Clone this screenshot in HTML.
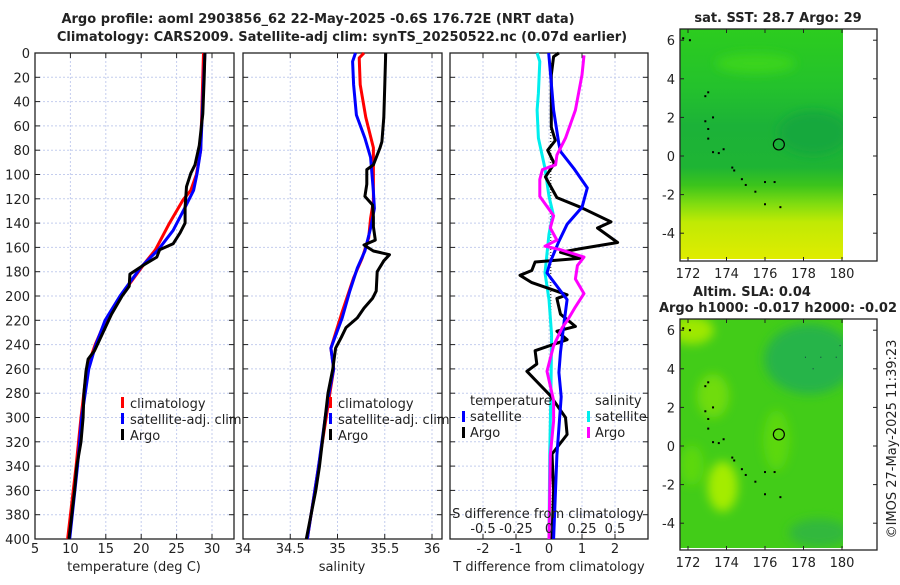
<!DOCTYPE html>
<html><head><meta charset="utf-8"><style>
body{margin:0;background:#fff}
svg text{font-family:"DejaVu Sans","Liberation Sans",sans-serif;fill:#222}
</style></head><body>
<svg id="fig" width="900" height="580" viewBox="0 0 900 580" xmlns="http://www.w3.org/2000/svg">
<defs>
<linearGradient id="sstGrad" x1="0" y1="0" x2="0" y2="1">
<stop offset="0" stop-color="#2ccc1e"/><stop offset="0.25" stop-color="#24c22c"/>
<stop offset="0.42" stop-color="#1cb238"/><stop offset="0.6" stop-color="#1eb434"/>
<stop offset="0.68" stop-color="#3cc41c"/><stop offset="0.76" stop-color="#80dc10"/>
<stop offset="0.84" stop-color="#c0ea04"/><stop offset="1" stop-color="#e0ec00"/>
</linearGradient>
<filter id="blur" x="-50%" y="-50%" width="200%" height="200%"><feGaussianBlur stdDeviation="5"/></filter>
<clipPath id="m1clip"><rect x="680" y="29" width="163" height="230"/></clipPath>
<clipPath id="m2clip"><rect x="680" y="319" width="163" height="229"/></clipPath>
</defs>
<text x="318" y="23" text-anchor="middle" font-weight="bold" font-size="13">Argo profile: aoml 2903856_62 22-May-2025 -0.6S 176.72E (NRT data)</text>
<text x="342" y="41" text-anchor="middle" font-weight="bold" font-size="13">Climatology: CARS2009. Satellite-adj clim: synTS_20250522.nc (0.07d earlier)</text>
<g id="plots"></g>
<text x="778" y="22" text-anchor="middle" font-weight="bold" font-size="13">sat. SST: 28.7 Argo: 29</text>
<text x="752" y="296" text-anchor="middle" font-weight="bold" font-size="13">Altim. SLA: 0.04</text>
<text x="778" y="312" text-anchor="middle" font-weight="bold" font-size="13">Argo h1000: -0.017 h2000: -0.02</text>
<text transform="translate(896,439) rotate(-90)" text-anchor="middle" font-size="13">©IMOS 27-May-2025 11:39:23</text>
</svg>
<script>
// ---- data ----
const depthTicks=[0,20,40,60,80,100,120,140,160,180,200,220,240,260,280,300,320,340,360,380,400];
const tempTicks=[5,10,15,20,25,30];
const salTicks=[34,34.5,35,35.5,36];
const tdiffTicks=[-2,-1,0,1,2];
const sdiffTicks=[-0.5,-0.25,0,0.25,0.5];
const sdiffLabels=["-0.5","-0.25","0","0.25","0.5"];
const lonTicks=[172,174,176,178,180];
const latTicks=[6,4,2,0,-2,-4];

const climTDepth=[0,40,80,100,113,121,140,162,173,200,220,240,260,300,340,400];
const climT=[28.8,28.6,28.4,27.8,27.0,25.9,24.0,22.0,20.5,17.1,15.0,13.5,12.3,11.5,10.8,9.6];
const satTDepth=[0,40,80,99,113,127,146,162,176,200,220,240,260,300,340,400];
const satT=[29.0,28.7,28.4,27.9,27.4,26.2,24.5,22.4,20.0,17.0,14.9,13.6,12.6,11.6,11.0,9.9];
const argoTDepth=[0,20,50,76,92,99,110,127,140,148,157,162,168,174,182,192,200,215,230,245,252,262,280,300,320,340,360,400];
const argoT=[29.0,28.9,28.7,28.2,27.6,27.0,26.4,26.2,26.2,25.5,24.5,22.6,22.2,20.5,18.4,18.3,17.3,15.8,14.6,13.4,12.5,12.2,11.9,11.8,11.5,10.9,10.6,9.8];

const climSDepth=[0,4,26,53,78,95,122,136,152,169,185,213,243,260,280,300,340,400];
const climS=[35.28,35.23,35.24,35.30,35.38,35.38,35.38,35.35,35.33,35.26,35.17,35.05,34.93,34.96,34.92,34.88,34.80,34.68];
const satSDepth=[0,7,26,51,70,86,95,114,128,144,163,177,196,218,243,260,280,300,340,400];
const satS=[35.19,35.16,35.17,35.20,35.29,35.35,35.36,35.38,35.39,35.35,35.29,35.21,35.13,35.05,34.93,34.96,34.91,34.87,34.80,34.68];
const argoSDepth=[0,26,53,73,78,92,96,108,118,125,135,143,154,158,163,166,171,180,196,202,210,218,226,234,243,260,280,300,340,360,400];
const argoS=[35.51,35.50,35.49,35.47,35.45,35.38,35.31,35.31,35.29,35.37,35.38,35.38,35.40,35.28,35.38,35.55,35.49,35.42,35.41,35.37,35.28,35.21,35.09,35.04,34.98,34.95,34.90,34.87,34.81,34.77,34.67];

const tdiffDepth=[0,3,18,61,72,80,91,102,119,127,139,144,156,161,164,169,172,179,183,189,199,202,215,225,229,236,245,256,262,282,300,314,330,360,400];
const argoTdiff=[0.3,0.14,0.07,0.07,0.19,-0.04,0.16,-0.11,0.24,0.96,1.88,1.47,2.08,0.96,0.35,0.96,-0.42,-0.52,-0.88,-0.52,0.55,0.24,0.35,0.8,0.24,0.55,-0.42,-0.37,-0.67,0.04,0.5,0.55,0.09,0.14,0.09];
const satTdiffDepth=[0,47,75,81,95,111,127,141,155,172,181,203,223,246,263,283,331,400];
const satTdiff=[-0.01,0.14,0.3,0.35,0.75,1.16,1.0,0.55,0.3,0.04,-0.06,0.55,0.45,0.35,0.3,0.37,0.24,0.14];
const satSdiffDepth=[0,7,33,47,70,95,118,132,149,181,203,232,275,331,400];
const satSdiff=[-0.09,-0.07,-0.08,-0.09,-0.08,-0.03,0.0,0.03,0.0,-0.03,0.0,0.02,0.015,0.005,0.0];
const argoSdiffDepth=[2,18,47,70,84,92,96,104,118,134,144,154,159,162,168,175,186,198,209,220,226,241,262,286,303,331,400];
const argoSdiff=[0.265,0.25,0.2,0.125,0.06,0.05,-0.05,-0.07,-0.07,0.035,0.01,0.06,-0.03,0.09,0.265,0.215,0.2,0.265,0.2,0.14,0.1,0.035,-0.015,0.035,0.035,0.01,0.0];

const islandLon=[171.75,172.1,172.9,173.05,172.9,173.05,173.3,173.05,173.3,173.6,173.85,174.3,174.4,174.8,175.0,175.5,176.0,176.5,176.0,176.8];
const islandLat=[6.1,6.0,3.1,3.3,1.8,1.4,2.0,0.9,0.2,0.15,0.35,-0.6,-0.75,-1.2,-1.5,-1.85,-1.35,-1.35,-2.5,-2.65];
const reefLon=[178.1,178.5,178.9,179.7,179.9];
const reefLat=[4.6,4.0,4.6,4.6,5.2];
const argoLon=[176.72];
const argoLat=[0.6];

// ---- helpers ----
const NS="http://www.w3.org/2000/svg";
const root=document.getElementById('plots');
function mk(tag,attrs,parent){const e=document.createElementNS(NS,tag);for(const k in attrs)e.setAttribute(k,attrs[k]);(parent||root).appendChild(e);return e;}
const Y0=53,YK=1.215,YB=539;
const yD=d=>Y0+d*YK;
const xT=t=>35+(t-5)*7.08;
const xS=s=>243+(s-34)*94.5;
const xTd=d=>549+33*d;
const xSd=s=>549+132*s;
const lonX=l=>688+(l-172)*19.25;
const lat1=l=>156-l*19.3;
const lat2=l=>446-l*19.3;

function panel(name,x0,x1,xticks,xfun,labels){
  for(const t of xticks){const x=xfun(t);
    const g=mk('line',{x1:x,x2:x,y1:Y0,y2:YB,stroke:'#c4cdee','stroke-width':1,'stroke-dasharray':'2,2'});
    }
  for(const d of depthTicks){const y=yD(d);
    const g=mk('line',{x1:x0,x2:x1,y1:y,y2:y,stroke:'#c4cdee','stroke-width':1,'stroke-dasharray':'2,2'});
    
    const t1=mk('line',{x1:x0,x2:x0+5,y1:y,y2:y,stroke:'#222'});
    const t2=mk('line',{x1:x1-5,x2:x1,y1:y,y2:y,stroke:'#222'});}
  xticks.forEach((t,i)=>{const x=xfun(t);
    const a=mk('line',{x1:x,x2:x,y1:YB-5,y2:YB,stroke:'#222'});
    const b=mk('line',{x1:x,x2:x,y1:Y0,y2:Y0+5,stroke:'#222'});
    if(labels){const tx=mk('text',{x:x,y:553,'text-anchor':'middle','font-size':13});tx.textContent=labels[i];
      }});
  const r=mk('rect',{x:x0,y:Y0,width:x1-x0,height:YB-Y0,fill:'none',stroke:'#222','stroke-width':1.3});
  
}
function line(name,xs,ds,xf,color,w){
  const p=xs.map((v,i)=>(i?'L':'M')+xf(v).toFixed(1)+','+yD(ds[i]).toFixed(1)).join('');
  const e=mk('path',{d:p,fill:'none',stroke:color,'stroke-width':w||3,'stroke-linejoin':'round'});
  
}
function txt(name,x,y,s,anchor,size,bold){const e=mk('text',{x:x,y:y,'text-anchor':anchor||'start','font-size':size||13});
  if(bold)e.setAttribute('font-weight','bold');e.textContent=s;
  return e;}
function mark(name,x,y,c){const e=mk('rect',{x:x,y:y-11,width:3,height:11,fill:c});
  }

// ---- panel 1 ----
panel('temp-panel',35,234,tempTicks,xT,tempTicks.map(String));
depthTicks.forEach(d=>txt('depth-tick-label',30,yD(d)+5,String(d),'end',13));
line('temp-climatology-line',climT,climTDepth,xT,'#f00');
line('temp-satellite-line',satT,satTDepth,xT,'#00f');
line('temp-argo-line',argoT,argoTDepth,xT,'#000');
txt('temp-x-axis-title',134,571,'temperature (deg C)','middle',13);
mark('legend-climatology-marker',121,408,'#f00');txt('legend-climatology',130,408,'climatology');
mark('legend-satellite-marker',121,424,'#00f');txt('legend-satellite-adj',130,424,'satellite-adj. clim');
mark('legend-argo-marker',121,440,'#000');txt('legend-argo',130,440,'Argo');

// ---- panel 2 ----
panel('sal-panel',243,442,salTicks,xS,salTicks.map(String));
line('sal-climatology-line',climS,climSDepth,xS,'#f00');
line('sal-satellite-line',satS,satSDepth,xS,'#00f');
line('sal-argo-line',argoS,argoSDepth,xS,'#000');
txt('sal-x-axis-title',342,571,'salinity','middle',13);
mark('sal-legend-climatology-marker',329,408,'#f00');txt('sal-legend-climatology',338,408,'climatology');
mark('sal-legend-satellite-marker',329,424,'#00f');txt('sal-legend-satellite-adj',338,424,'satellite-adj. clim');
mark('sal-legend-argo-marker',329,440,'#000');txt('sal-legend-argo',338,440,'Argo');

// ---- panel 3 ----
panel('diff-panel',450,648,tdiffTicks,xTd,tdiffTicks.map(String));
const zl=mk('line',{x1:xTd(0.05),x2:xTd(0.05),y1:Y0+10,y2:YB-30,stroke:'#555','stroke-width':1.5,'stroke-dasharray':'1,2'});

line('sdiff-satellite-line',satSdiff,satSdiffDepth,xSd,'#0ee');
line('tdiff-argo-line',argoTdiff,tdiffDepth,xTd,'#000');
line('tdiff-satellite-line',satTdiff,satTdiffDepth,xTd,'#00f');
line('sdiff-argo-line',argoSdiff,argoSdiffDepth,xSd,'#f0f');
txt('s-diff-axis-title',548,518,'S difference from climatology','middle',13);
sdiffTicks.forEach((s,i)=>txt('s-diff-tick-label',xSd(s),533,sdiffLabels[i],'middle',13));
txt('t-diff-axis-title',549,571,'T difference from climatology','middle',13);
txt('legend-temperature-heading',470,405,'temperature');
mark('legend-tdiff-satellite-marker',462,422,'#00f');txt('legend-tdiff-satellite',470,421,'satellite');
mark('legend-tdiff-argo-marker',462,438,'#000');txt('legend-tdiff-argo',470,437,'Argo');
txt('legend-salinity-heading',595,405,'salinity');
mark('legend-sdiff-satellite-marker',587,422,'#0ee');txt('legend-sdiff-satellite',595,421,'satellite');
mark('legend-sdiff-argo-marker',587,438,'#f0f');txt('legend-sdiff-argo',595,437,'Argo');

// ---- maps ----
function mapAxes(name,top,bot,latf){
  const r=mk('rect',{x:680,y:top,width:197,height:bot-top,fill:'none',stroke:'#222','stroke-width':1.3});
  
  lonTicks.forEach(l=>{const x=lonX(l);
    const a=mk('line',{x1:x,x2:x,y1:bot-4,y2:bot,stroke:'#222'});
    const b=mk('line',{x1:x,x2:x,y1:top,y2:top+4,stroke:'#222'});
    txt(name+'-lon-label',x,bot+17,String(l),'middle',13);});
  latTicks.forEach(l=>{const y=latf(l);
    const a=mk('line',{x1:680,x2:684,y1:y,y2:y,stroke:'#222'});
    const b=mk('line',{x1:873,x2:877,y1:y,y2:y,stroke:'#222'});
    txt(name+'-lat-label',675,y+5,String(l),'end',13);});
}
function islands(name,latf,clip,withReef){
  const g=mk('g',{'clip-path':'url(#'+clip+')'});
  islandLon.forEach((l,i)=>{const e=mk('rect',{x:lonX(l)-1,y:latf(islandLat[i])-1,width:2,height:2,fill:'#000'},g);
    });
  if(withReef)reefLon.forEach((l,i)=>{const e=mk('rect',{x:lonX(l)-0.5,y:latf(reefLat[i])-0.5,width:1,height:1,fill:'#134'},g);
    });
  argoLon.forEach((l,i)=>{const c=mk('circle',{cx:lonX(l),cy:latf(argoLat[i]),r:5.5,fill:'none',stroke:'#000','stroke-width':1.2});
    });
}
// map 1 (SST)
const m1=mk('rect',{x:680,y:29,width:163,height:230,fill:'url(#sstGrad)'});

const m1g=mk('g',{'clip-path':'url(#m1clip)',filter:'url(#blur)'});

mk('ellipse',{cx:lonX(178.5),cy:lat1(1.2),rx:35,ry:22,fill:'#16a83e'},m1g);
mk('ellipse',{cx:lonX(175.5),cy:lat1(4.8),rx:40,ry:10,fill:'#3ad41c'},m1g);
islands('sst-map',lat1,'m1clip',false);
mapAxes('sst-map',29,261,lat1);
// map 2 (SLA)
const m2=mk('rect',{x:680,y:319,width:163,height:229,fill:'#42cc18'});

const m2g=mk('g',{'clip-path':'url(#m2clip)',filter:'url(#blur)'});

mk('ellipse',{cx:lonX(178.3),cy:lat2(4.5),rx:45,ry:35,fill:'#26b44a'},m2g);
mk('ellipse',{cx:lonX(178.8),cy:lat2(-4.5),rx:30,ry:14,fill:'#30b83c'},m2g);
mk('ellipse',{cx:lonX(172.2),cy:lat2(6),rx:22,ry:14,fill:'#9ee800'},m2g);
mk('ellipse',{cx:lonX(173.3),cy:lat2(2.6),rx:16,ry:22,fill:'#70dc08'},m2g);
mk('ellipse',{cx:lonX(173.8),cy:lat2(-2.1),rx:15,ry:25,fill:'#a4ec00'},m2g);
mk('ellipse',{cx:lonX(176.6),cy:lat2(0.3),rx:13,ry:30,fill:'#5cd810'},m2g);
mk('ellipse',{cx:lonX(172.2),cy:lat2(-1),rx:12,ry:20,fill:'#5cd810'},m2g);
islands('sla-map',lat2,'m2clip',true);
mapAxes('sla-map',319,550,lat2);
</script>
</body></html>
